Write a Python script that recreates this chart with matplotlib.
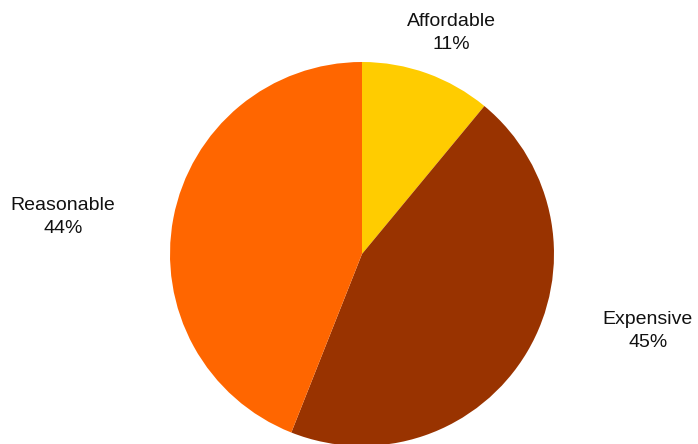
import matplotlib.pyplot as plt

# price perception shares (percent)
categories = ["Affordable", "Expensive", "Reasonable"]
shares = [11, 45, 44]
colors = ["#FFCC00", "#993300", "#FF6600"]

# label anchor points in pixel space (x, y from top)
label_pos = [(451, 33), (648, 331), (63, 217)]

W, H = 698, 444
fig = plt.figure(figsize=(W / 100, H / 100), dpi=100)
ax = fig.add_axes([0, 0, 1, 1])

ax.pie(shares, colors=colors, startangle=90, counterclock=False,
       center=(362, H - 254), radius=192, frame=True,
       wedgeprops=dict(linewidth=0))
ax.set_xlim(0, W)
ax.set_ylim(0, H)
ax.axis("off")

for name, val, (x, y) in zip(categories, shares, label_pos):
    ax.text(x, H - y, f"{name}\n{val}%", ha="center", va="center",
            fontsize=14, family="Liberation Sans", color="#111111",
            linespacing=1.5)

fig.savefig("out.png", dpi=100)
